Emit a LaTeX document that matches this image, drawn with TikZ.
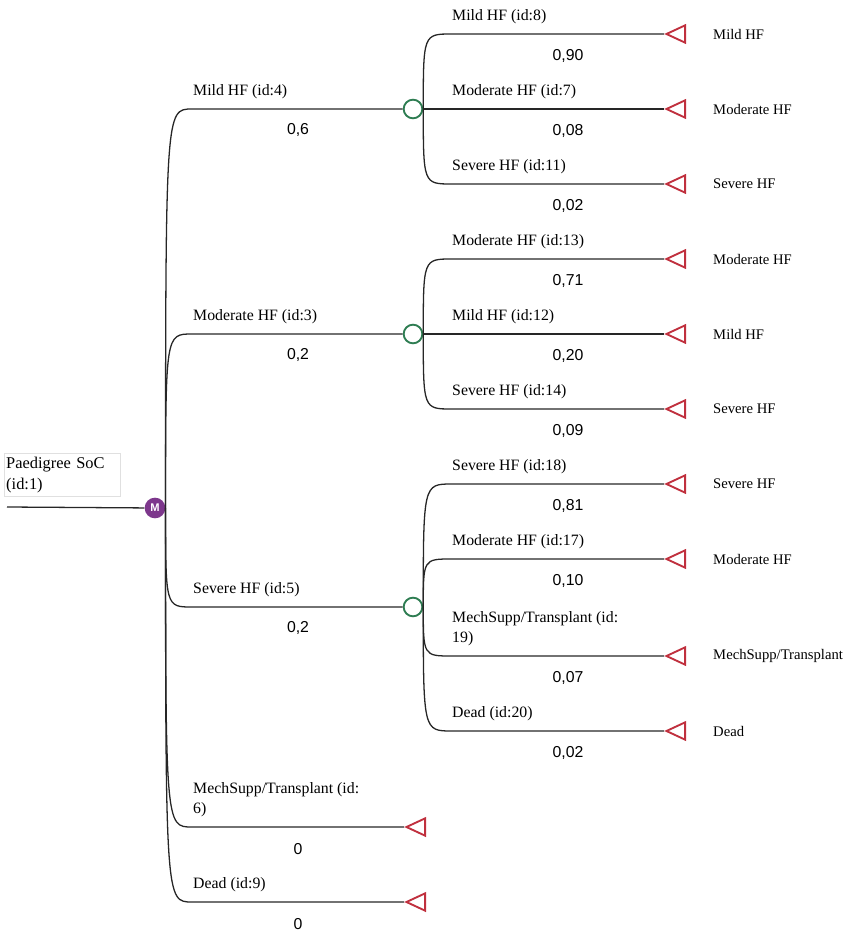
\documentclass[tikz,border=0pt]{standalone}
\usepackage{fontspec}
\setmainfont{Liberation Serif}
\newfontfamily\probfont{Liberation Sans}
\usetikzlibrary{shapes.geometric}

\definecolor{markovpurple}{RGB}{125,55,140}
\definecolor{chancegreen}{RGB}{46,125,82}
\definecolor{termred}{RGB}{192,48,62}

\tikzset{
	edge/.style = {line width=1.1pt, black!85},
	markov/.style = {circle, fill=markovpurple, text=white, inner sep=0pt, minimum size=0.62cm,
		font=\probfont\bfseries\fontsize{9.5}{9.5}\selectfont},
	chance/.style = {circle, draw=chancegreen, fill=white, line width=1.6pt, inner sep=0pt, minimum size=0.56cm},
	term/.style = {isosceles triangle, shape border rotate=180, isosceles triangle stretches,
		draw=termred, line width=1.6pt, inner sep=0pt, minimum width=0.52cm, minimum height=0.56cm},
	branch/.style = {anchor=south west, align=left, inner sep=0pt, font=\fontsize{13.5}{17}\selectfont},
	prob/.style = {inner sep=0pt, font=\probfont\fontsize{13.5}{15}\selectfont},
	endlabel/.style = {anchor=west, inner sep=0pt, font=\fontsize{12.5}{14}\selectfont},
	rootbox/.style = {draw=black!12, anchor=north west, align=left, text width=3.35cm, minimum height=1.29cm,
		inner xsep=0.06cm, inner ysep=2pt, font=\fontsize{14}{18}\selectfont}
}

\begin{document}
\begin{tikzpicture}[x=0.03cm, y=-0.03cm]
	\useasboundingbox (0,0) rectangle (854,936);
	% root
	\node[rootbox] (root) at (4,453) {Paedigree SoC\\(id:1)};
	\node[markov] (M) at (155,508) {M};
	\coordinate (s) at (7,507);
	\draw[edge] (s) -- (M);

	% first level, chance nodes
	\foreach \n/\y/\lab/\p in {4/109/{Mild HF (id:4)}/{0,6}, 3/334/{Moderate HF (id:3)}/{0,2}, 5/607/{Severe HF (id:5)}/{0,2}} {
		\node[chance] (c\n) at (413,\y) {};
		\coordinate (b\n) at (192,\y);
		\draw[edge] (M.east) .. controls (M.east |- b\n) .. (b\n) -- (c\n);
		\node[branch] (l\n) at (193,\y-10) {\lab};
		\node[prob] (p\n) at (298,\y+21) {\p};
	}

	% first level, terminal nodes
	\foreach \n/\y/\lab/\p in {6/827/{MechSupp/Transplant (id:\\6)}/{0}, 9/902/{Dead (id:9)}/{0}} {
		\node[term, anchor=apex] (t\n) at (404,\y) {};
		\coordinate (b\n) at (192,\y);
		\draw[edge] (M.east) .. controls (M.east |- b\n) .. (b\n) -- (t\n);
		\node[branch] (l\n) at (193,\y-10) {\lab};
		\node[prob] (p\n) at (298,\y+22) {\p};
	}

	% second level
	\foreach \n/\up/\y/\lab/\p/\t in {
		8/4/34/{Mild HF (id:8)}/{0,90}/{Mild HF},
		7/4/109/{Moderate HF (id:7)}/{0,08}/{Moderate HF},
		11/4/184/{Severe HF (id:11)}/{0,02}/{Severe HF},
		13/3/259/{Moderate HF (id:13)}/{0,71}/{Moderate HF},
		12/3/334/{Mild HF (id:12)}/{0,20}/{Mild HF},
		14/3/409/{Severe HF (id:14)}/{0,09}/{Severe HF},
		18/5/484/{Severe HF (id:18)}/{0,81}/{Severe HF},
		17/5/559/{Moderate HF (id:17)}/{0,10}/{Moderate HF},
		19/5/656/{MechSupp/Transplant (id:\\19)}/{0,07}/{MechSupp/Transplant},
		20/5/731/{Dead (id:20)}/{0,02}/{Dead}} {
		\node[term, anchor=apex] (t\n) at (664,\y) {};
		\coordinate (b\n) at (452,\y);
		\draw[edge] (c\up.east) .. controls (c\up.east |- b\n) .. (b\n) -- (t\n);
		\node[branch] (l\n) at (452,\y-10) {\lab};
		\node[prob] (p\n) at (568,\y+22) {\p};
		\node[endlabel] (e\n) at (713,\y) {\t};
	}
\end{tikzpicture}
\end{document}
